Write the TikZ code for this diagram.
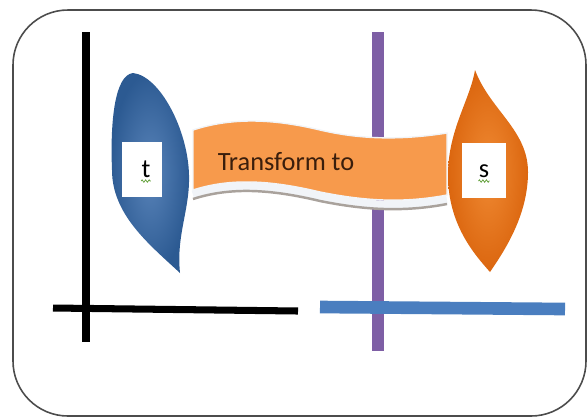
\documentclass[tikz,border=0pt]{standalone}
\usepackage{fontspec}
\setmainfont{Carlito}
\usepackage{xcolor}
\usepackage{tikz}
\usetikzlibrary{positioning,decorations.pathmorphing,shadings}
\definecolor{leafblue}{HTML}{3C6EAD}
\definecolor{leafbluedark}{HTML}{2C5A92}
\definecolor{leaforange}{HTML}{F08A33}
\definecolor{leaforangedark}{HTML}{DB660F}
\definecolor{bannerorange}{HTML}{F79A4C}
\definecolor{barblue}{HTML}{4A7EBF}
\definecolor{barpurple}{HTML}{7E5FA5}
\definecolor{rimwhite}{HTML}{F1F4F8}
\definecolor{rimgray}{HTML}{A9A29C}
\definecolor{inkbrown}{HTML}{3A1E0C}
\definecolor{spellgreen}{HTML}{5E9E34}
\tikzset{
  framebox/.style={draw=black!70, line width=0.9pt, rounded corners=1.1cm},
  axisline/.style={line width=#1},
  axisline/.default=4pt,
  labelbox/.style={
    rectangle, fill=white, inner sep=0pt,
    minimum width=#1, minimum height=1.1cm,
    font=\fontsize{15}{18}\selectfont
  },
  labelbox/.default=0.8cm,
  bannertext/.style={font=\fontsize{15}{18}\selectfont, text=inkbrown, inner sep=0pt},
  squiggle/.style={draw=spellgreen, line width=0.4pt, decorate,
    decoration={zigzag, segment length=2pt, amplitude=0.7pt}}
}

\begin{document}
\begin{tikzpicture}[x=0.02cm, y=-0.02cm]
  \useasboundingbox (0,0) rectangle (587,417);

  % Frame
  \draw[framebox] (13,10) rectangle (586,416);

  % Axes
  \draw[axisline] (86,32) -- (86,342);
  \draw[axisline] (53,308) -- (298,311);
  \draw[axisline=6.6pt, barpurple] (378,32) -- (378,351);
  \draw[axisline=7.2pt, barblue] (320,307) -- (565,309);

  % Banner
  \draw[line width=5pt, rimwhite]
    (193,195) .. controls (230,183) and (270,185) .. (320,197)
              .. controls (360,205) and (400,209) .. (447,200);
  \draw[line width=1.4pt, rimgray]
    (193,199) .. controls (230,187) and (270,189) .. (320,201)
              .. controls (360,209) and (400,213) .. (447,204);
  \fill[bannerorange, draw=rimwhite, line width=0.8pt]
    (193,130) .. controls (230,118) and (270,118) .. (320,130)
              .. controls (350,137) and (390,142) .. (447,133)
    -- (447,195) .. controls (400,204) and (360,200) .. (320,192)
              .. controls (270,180) and (230,178) .. (193,190) -- cycle;
  \node[bannertext, anchor=base] (trans) at (286,170) {Transform to};

  % Source leaf
  \shade[inner color=leafblue!85!white, outer color=leafbluedark]
    (133,73) .. controls (160,76) and (188,130) .. (189,175)
             .. controls (190,210) and (176,235) .. (180,273)
             .. controls (150,245) and (112,215) .. (112,170)
             .. controls (110,120) and (115,75) .. (133,73) -- cycle;
  \node[labelbox] (tbox) at (142,169.5) {};
  \node[bannertext, text=black, anchor=base] (tlab) at (146,177) {t};
  \draw[squiggle] ([yshift=-2.3pt]tlab.base west) -- ([yshift=-2.3pt]tlab.base east);

  % Target leaf
  \shade[inner color=leaforange, outer color=leaforangedark]
    (475,70) .. controls (470,100) and (448,130) .. (448,175)
             .. controls (448,225) and (475,255) .. (490,272)
             .. controls (505,250) and (528,215) .. (528,172)
             .. controls (528,130) and (490,110) .. (475,70) -- cycle;
  \node[labelbox=0.88cm] (sbox) at (484,170.5) {};
  \node[bannertext, text=black, anchor=base] (slab) at (484,177) {s};
  \draw[squiggle] ([yshift=-2.3pt]slab.base west) -- ([yshift=-2.3pt]slab.base east);
\end{tikzpicture}
\end{document}
